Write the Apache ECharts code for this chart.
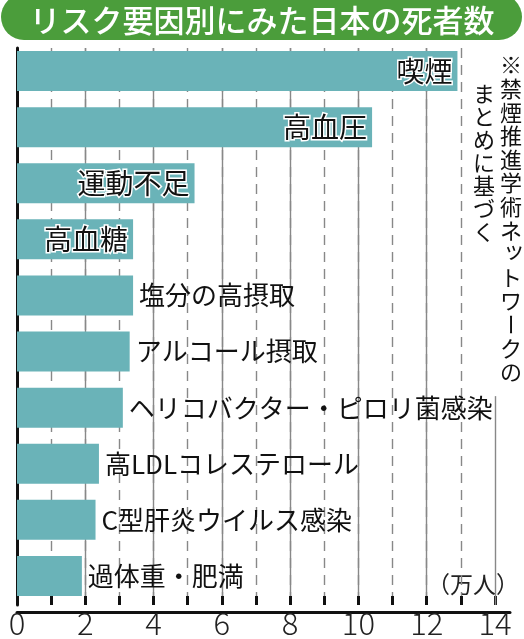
<!DOCTYPE html>
<html>
<head>
<meta charset="utf-8">
<title>リスク要因別にみた日本の死者数</title>
<script src="https://cdn.jsdelivr.net/npm/echarts@6/dist/echarts.min.js"></script>
<style>
html, body { margin: 0; padding: 0; background: #fff; }
#main { width: 524px; height: 639px; }
</style>
</head>
<body>
<div id="main"></div>
<script>
var titleText = 'リスク要因別にみた日本の死者数';
var categories = ['喫煙', '高血圧', '運動不足', '高血糖', '塩分の高摂取', 'アルコール摂取',
    'ヘリコバクター・ピロリ菌感染', '高LDLコレステロール', 'C型肝炎ウイルス感染', '過体重・肥満'];
var deaths = [12.9, 10.4, 5.2, 3.4, 3.4, 3.3, 3.1, 2.4, 2.3, 1.9];   // 万人
var tickLabels = [0, 2, 4, 6, 8, 10, 12, 14];
var unitText = '（万人）';
var noteLines = ['※禁煙推進学術ネットワークの', 'まとめに基づく'];

var FONT = '"Noto Sans CJK JP", "Noto Sans", sans-serif';
var xMin = tickLabels[0];
var xMax = tickLabels[tickLabels.length - 1];
var labelStep = tickLabels[1] - tickLabels[0];
var insideCount = 4;   // first bars carry their label inside

var myChart = echarts.init(document.getElementById('main'));

var barData = deaths.map(function (v, i) {
    var inside = i < insideCount;
    return {
        value: v,
        label: inside ? {
            position: 'insideRight', distance: 5, fontSize: 28,
            color: '#111', textBorderColor: '#fff', textBorderWidth: 3
        } : {
            position: 'right', distance: 6, fontSize: 26, color: '#111'
        }
    };
});

// vertical note, one glyph per element
var noteEls = [];
var colX = [511, 484];
var colY = [65, 94];
var colStep = [23.6, 23];
noteLines.forEach(function (line, c) {
    Array.from(line).forEach(function (ch, k) {
        var el = {
            type: 'text',
            x: colX[c],
            y: colY[c] + k * colStep[c],
            style: {
                text: ch, font: '22px ' + FONT, fill: '#111',
                align: 'center', verticalAlign: 'middle'
            }
        };
        if (ch === 'ー') el.rotation = -Math.PI / 2;
        if (ch === 'ッ') { el.x += 3; el.y -= 4; }
        noteEls.push(el);
    });
});

option = {
    animation: false,
    grid: [
        {left: 17, right: 29, top: 43, bottom: 35},
        {left: 17, right: 29, top: 48, bottom: 27},
        {left: 17, right: 14, top: 48, bottom: 27}
    ],
    xAxis: [
        {gridIndex: 0, type: 'value', min: xMin, max: xMax, show: false},
        {
            gridIndex: 1, type: 'value', position: 'bottom', min: xMin, max: xMax, interval: 1,
            axisLine: {show: false},
            axisTick: {show: true, inside: true, length: 9, lineStyle: {color: '#111', width: 3}},
            axisLabel: {show: false},
            splitLine: {
                show: true, showMinLine: false, showMaxLine: false,
                lineStyle: {color: '#888', width: 1.4, type: [10, 7]}
            }
        },
        {
            gridIndex: 1, type: 'value', position: 'bottom', min: xMin, max: xMax, interval: labelStep,
            axisLine: {show: false},
            axisTick: {show: false},
            axisLabel: {
                show: true, margin: 3, fontSize: 31, fontWeight: 300, color: '#222', fontFamily: FONT,
                showMinLabel: true, showMaxLabel: true
            },
            splitLine: {
                show: true, showMinLine: false, showMaxLine: false,
                lineStyle: {color: '#888', width: 1.4, type: 'solid'}
            }
        },
        {
            gridIndex: 2, type: 'value', position: 'bottom', min: 0, max: 1,
            axisLine: {show: true, onZero: false, lineStyle: {color: '#111', width: 3}},
            axisTick: {show: false}, axisLabel: {show: false}, splitLine: {show: false}
        }
    ],
    yAxis: [
        {gridIndex: 0, type: 'category', data: categories, inverse: true, show: false},
        {
            gridIndex: 1, type: 'value', position: 'left', min: 0, max: 1,
            axisLine: {show: true, onZero: false, lineStyle: {color: '#111', width: 3}},
            axisTick: {show: false}, axisLabel: {show: false}, splitLine: {show: false}
        },
        {gridIndex: 2, type: 'value', min: 0, max: 1, show: false}
    ],
    series: [
        {
            name: '死者数',
            type: 'bar',
            xAxisIndex: 0,
            yAxisIndex: 0,
            barWidth: 40,
            itemStyle: {color: '#6ab3b8'},
            label: {
                show: true,
                fontFamily: FONT,
                formatter: function (p) { return p.name; }
            },
            data: barData,
            z: 3
        },
        {
            // the 14 line only runs in the lower part of the chart
            type: 'line',
            xAxisIndex: 2,
            yAxisIndex: 1,
            data: [],
            silent: true,
            markLine: {
                silent: true,
                symbol: ['none', 'none'],
                label: {show: false},
                lineStyle: {color: '#888', width: 1.4, type: 'solid'},
                data: [[{coord: [xMax, 0]}, {coord: [xMax, 0.375]}]]
            }
        }
    ],
    graphic: [
        {
            type: 'rect',
            shape: {x: 1, y: -6, width: 521, height: 46, r: 23},
            style: {fill: '#4b9d3b'}
        },
        {
            type: 'text',
            x: 262, y: 20,
            style: {
                text: titleText, font: '500 31px ' + FONT, fill: '#fff',
                align: 'center', verticalAlign: 'middle'
            }
        },
        {
            type: 'text',
            x: 519, y: 584,
            style: {
                text: unitText, font: '23px ' + FONT, fill: '#222',
                align: 'right', verticalAlign: 'middle'
            }
        },
        {type: 'group', children: noteEls}
    ]
};

myChart.setOption(option);
</script>
</body>
</html>
